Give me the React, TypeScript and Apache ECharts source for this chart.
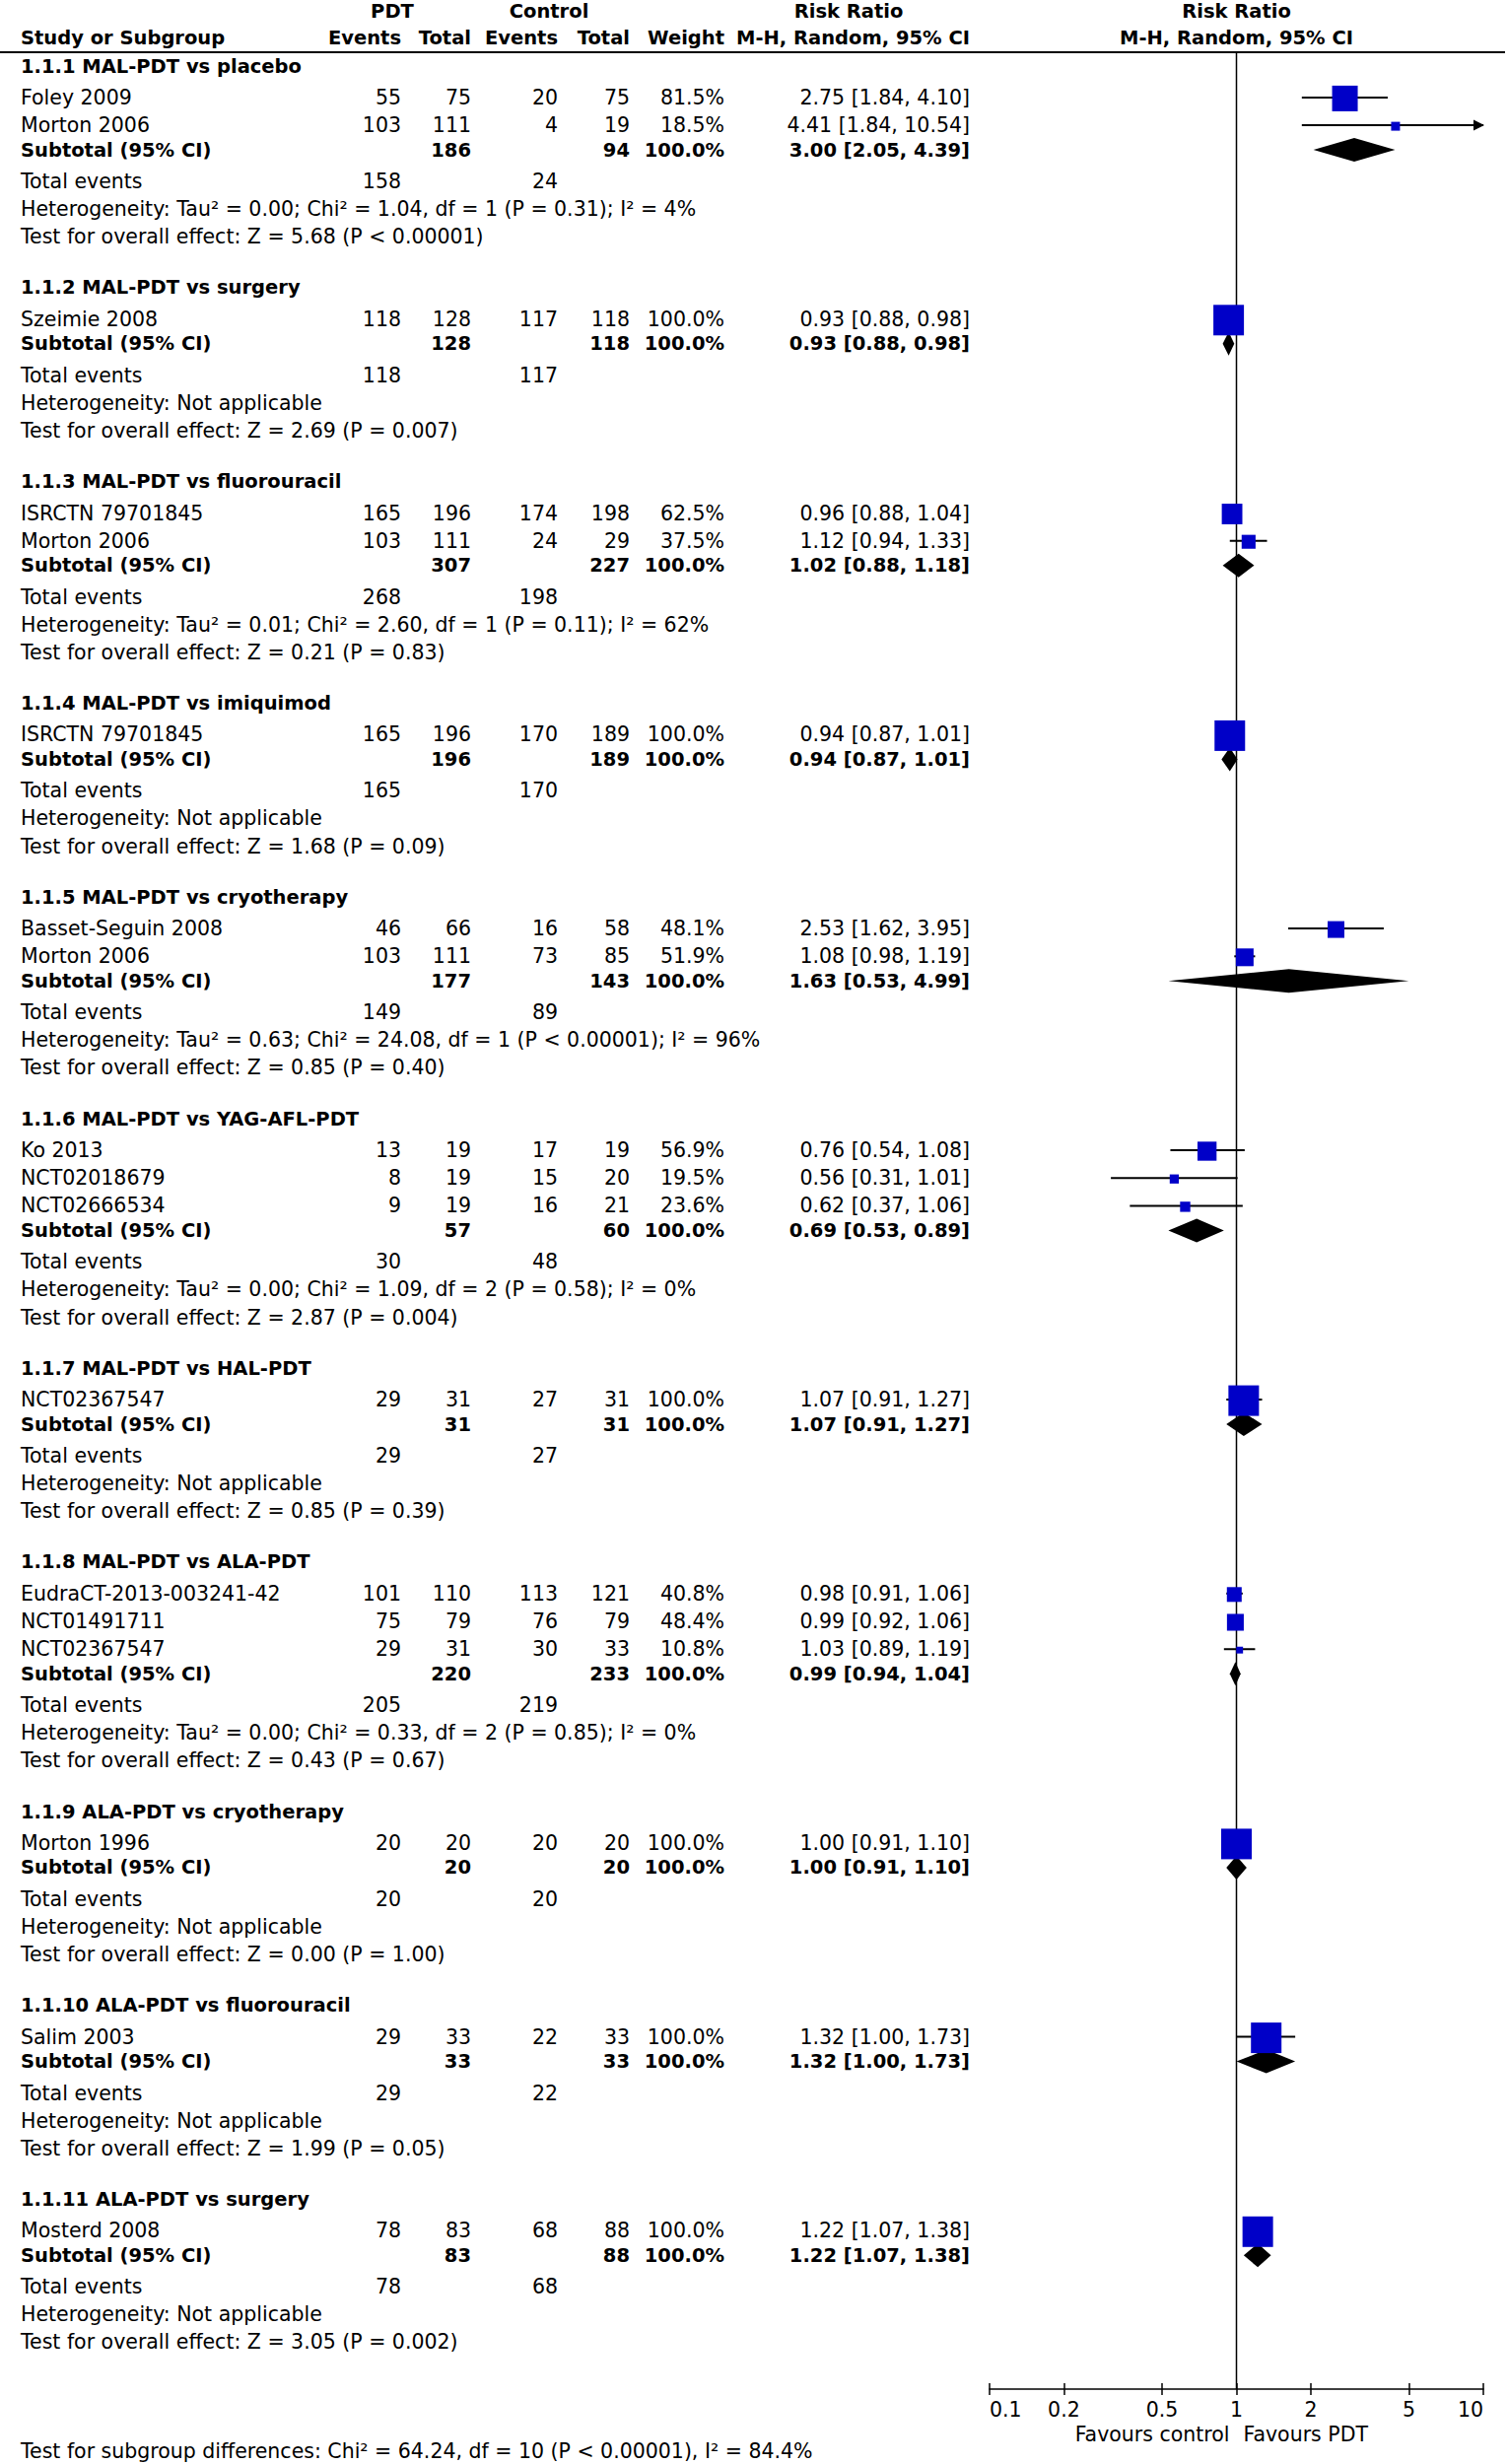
import React, { useEffect, useRef } from "react";
import * as echarts from "echarts";

// ---------- data ----------
const subgroupTitles = [
  "1.1.1 MAL-PDT vs placebo",
  "1.1.2 MAL-PDT vs surgery",
  "1.1.3 MAL-PDT vs fluorouracil",
  "1.1.4 MAL-PDT vs imiquimod",
  "1.1.5 MAL-PDT vs cryotherapy",
  "1.1.6 MAL-PDT vs YAG-AFL-PDT",
  "1.1.7 MAL-PDT vs HAL-PDT",
  "1.1.8 MAL-PDT vs ALA-PDT",
  "1.1.9 ALA-PDT vs cryotherapy",
  "1.1.10 ALA-PDT vs fluorouracil",
  "1.1.11 ALA-PDT vs surgery",
];

const studyGroup = [0, 0, 1, 2, 2, 3, 4, 4, 5, 5, 5, 6, 7, 7, 7, 8, 9, 10];
const studyNames = [
  "Foley 2009", "Morton 2006", "Szeimie 2008", "ISRCTN 79701845", "Morton 2006",
  "ISRCTN 79701845", "Basset-Seguin 2008", "Morton 2006", "Ko 2013", "NCT02018679",
  "NCT02666534", "NCT02367547", "EudraCT-2013-003241-42", "NCT01491711", "NCT02367547",
  "Morton 1996", "Salim 2003", "Mosterd 2008",
];
const pdtEvents = [55, 103, 118, 165, 103, 165, 46, 103, 13, 8, 9, 29, 101, 75, 29, 20, 29, 78];
const pdtTotal = [75, 111, 128, 196, 111, 196, 66, 111, 19, 19, 19, 31, 110, 79, 31, 20, 33, 83];
const ctrlEvents = [20, 4, 117, 174, 24, 170, 16, 73, 17, 15, 16, 27, 113, 76, 30, 20, 22, 68];
const ctrlTotal = [75, 19, 118, 198, 29, 189, 58, 85, 19, 20, 21, 31, 121, 79, 33, 20, 33, 88];
const studyWeight = [81.5, 18.5, 100, 62.5, 37.5, 100, 48.1, 51.9, 56.9, 19.5, 23.6, 100, 40.8, 48.4, 10.8, 100, 100, 100];
const studyRR = [2.75, 4.41, 0.93, 0.96, 1.12, 0.94, 2.53, 1.08, 0.76, 0.56, 0.62, 1.07, 0.98, 0.99, 1.03, 1.0, 1.32, 1.22];
const studyLo = [1.84, 1.84, 0.88, 0.88, 0.94, 0.87, 1.62, 0.98, 0.54, 0.31, 0.37, 0.91, 0.91, 0.92, 0.89, 0.91, 1.0, 1.07];
const studyHi = [4.1, 10.54, 0.98, 1.04, 1.33, 1.01, 3.95, 1.19, 1.08, 1.01, 1.06, 1.27, 1.06, 1.06, 1.19, 1.1, 1.73, 1.38];

const subPdtTotal = [186, 128, 307, 196, 177, 57, 31, 220, 20, 33, 83];
const subCtrlTotal = [94, 118, 227, 189, 143, 60, 31, 233, 20, 33, 88];
const subRR = [3.0, 0.93, 1.02, 0.94, 1.63, 0.69, 1.07, 0.99, 1.0, 1.32, 1.22];
const subLo = [2.05, 0.88, 0.88, 0.87, 0.53, 0.53, 0.91, 0.94, 0.91, 1.0, 1.07];
const subHi = [4.39, 0.98, 1.18, 1.01, 4.99, 0.89, 1.27, 1.04, 1.1, 1.73, 1.38];
const totalEventsPdt = [158, 118, 268, 165, 149, 30, 29, 205, 20, 29, 78];
const totalEventsCtrl = [24, 117, 198, 170, 89, 48, 27, 219, 20, 22, 68];

const heterogeneity = [
  "Heterogeneity: Tau² = 0.00; Chi² = 1.04, df = 1 (P = 0.31); I² = 4%",
  "Heterogeneity: Not applicable",
  "Heterogeneity: Tau² = 0.01; Chi² = 2.60, df = 1 (P = 0.11); I² = 62%",
  "Heterogeneity: Not applicable",
  "Heterogeneity: Tau² = 0.63; Chi² = 24.08, df = 1 (P < 0.00001); I² = 96%",
  "Heterogeneity: Tau² = 0.00; Chi² = 1.09, df = 2 (P = 0.58); I² = 0%",
  "Heterogeneity: Not applicable",
  "Heterogeneity: Tau² = 0.00; Chi² = 0.33, df = 2 (P = 0.85); I² = 0%",
  "Heterogeneity: Not applicable",
  "Heterogeneity: Not applicable",
  "Heterogeneity: Not applicable",
];
const overallEffect = [
  "Test for overall effect: Z = 5.68 (P < 0.00001)",
  "Test for overall effect: Z = 2.69 (P = 0.007)",
  "Test for overall effect: Z = 0.21 (P = 0.83)",
  "Test for overall effect: Z = 1.68 (P = 0.09)",
  "Test for overall effect: Z = 0.85 (P = 0.40)",
  "Test for overall effect: Z = 2.87 (P = 0.004)",
  "Test for overall effect: Z = 0.85 (P = 0.39)",
  "Test for overall effect: Z = 0.43 (P = 0.67)",
  "Test for overall effect: Z = 0.00 (P = 1.00)",
  "Test for overall effect: Z = 1.99 (P = 0.05)",
  "Test for overall effect: Z = 3.05 (P = 0.002)",
];
const subgroupDifferences =
  "Test for subgroup differences: Chi² = 64.24, df = 10 (P < 0.00001), I² = 84.4%";
const axisTicks = [0.1, 0.2, 0.5, 1, 2, 5, 10];
const favoursLeft = "Favours control";
const favoursRight = "Favours PDT";

// ---------- layout (pixels) ----------
const W = 1529;
const H = 2500;
const FONT = '"DejaVu Sans", "Noto Sans", sans-serif';
const FS = 20.5;
const FS_BOLD = 19.5;
const AXIS_Y = 2424;
const HEADER_LINE_Y = 53;
const COL = {
  name: 21,
  pdtE: 407,
  pdtT: 478,
  ctlE: 566,
  ctlT: 639,
  weight: 735,
  rr: 984,
  plotLeft: 1004,
  plotRight: 1505,
};
const PLOT_CENTER = (COL.plotLeft + COL.plotRight) / 2;
const ROW = {
  top: 67,
  titleToStudy: 31.9,
  studyStep: 28.2,
  studyToSub: 25,
  subToTotal: 31.9,
  line: 28.1,
  testToTitle: 51.7,
};

function computeLayout() {
  const titleY: number[] = [];
  const studyY: number[] = [];
  const subY: number[] = [];
  const totY: number[] = [];
  const hetY: number[] = [];
  const testY: number[] = [];
  let y = ROW.top;
  subgroupTitles.forEach((_, g) => {
    titleY[g] = y;
    y += ROW.titleToStudy;
    let first = true;
    studyGroup.forEach((sg, i) => {
      if (sg !== g) return;
      if (!first) y += ROW.studyStep;
      first = false;
      studyY[i] = y;
    });
    y += ROW.studyToSub;
    subY[g] = y;
    y += ROW.subToTotal;
    totY[g] = y;
    y += ROW.line;
    hetY[g] = y;
    y += ROW.line;
    testY[g] = y;
    y += ROW.testToTitle;
  });
  return { titleY, studyY, subY, totY, hetY, testY };
}

function txt(text: string, x: number, y: number, align: string, bold = false) {
  return {
    type: "text",
    x,
    y,
    silent: true,
    style: {
      text,
      font: bold ? `bold ${FS_BOLD}px ${FONT}` : `${FS}px ${FONT}`,
      fill: "#000",
      textAlign: align,
      textVerticalAlign: "middle",
      align,
      verticalAlign: "middle",
    },
  };
}

const f2 = (v: number) => v.toFixed(2);
const ciText = (rr: number, lo: number, hi: number) => `${f2(rr)} [${f2(lo)}, ${f2(hi)}]`;

export default function App() {
  const ref = useRef<HTMLDivElement>(null);

  useEffect(() => {
    if (!ref.current) return;
    const chart = echarts.init(ref.current, undefined, { renderer: "svg" });
    const L = computeLayout();
    const axisMax = axisTicks[axisTicks.length - 1];
    const axisMin = axisTicks[0];

    const graphics: any[] = [];
    // header
    const h1 = 11;
    const h2 = 38;
    graphics.push(txt("PDT", 398, h1, "center", true));
    graphics.push(txt("Control", 557, h1, "center", true));
    graphics.push(txt("Risk Ratio", 861, h1, "center", true));
    graphics.push(txt("Risk Ratio", PLOT_CENTER, h1, "center", true));
    graphics.push(txt("Study or Subgroup", COL.name, h2, "left", true));
    graphics.push(txt("Events", COL.pdtE, h2, "right", true));
    graphics.push(txt("Total", COL.pdtT, h2, "right", true));
    graphics.push(txt("Events", COL.ctlE, h2, "right", true));
    graphics.push(txt("Total", COL.ctlT, h2, "right", true));
    graphics.push(txt("Weight", COL.weight, h2, "right", true));
    graphics.push(txt("M-H, Random, 95% CI", COL.rr, h2, "right", true));
    graphics.push(txt("M-H, Random, 95% CI", PLOT_CENTER, h2, "center", true));
    graphics.push({
      type: "line",
      silent: true,
      shape: { x1: 0, y1: HEADER_LINE_Y, x2: W - 2, y2: HEADER_LINE_Y },
      style: { stroke: "#000", lineWidth: 2 },
    });

    // studies
    studyNames.forEach((name, i) => {
      const y = L.studyY[i];
      graphics.push(txt(name, COL.name, y, "left"));
      graphics.push(txt(String(pdtEvents[i]), COL.pdtE, y, "right"));
      graphics.push(txt(String(pdtTotal[i]), COL.pdtT, y, "right"));
      graphics.push(txt(String(ctrlEvents[i]), COL.ctlE, y, "right"));
      graphics.push(txt(String(ctrlTotal[i]), COL.ctlT, y, "right"));
      graphics.push(txt(studyWeight[i].toFixed(1) + "%", COL.weight, y, "right"));
      graphics.push(txt(ciText(studyRR[i], studyLo[i], studyHi[i]), COL.rr, y, "right"));
    });

    // subgroups
    subgroupTitles.forEach((title, g) => {
      graphics.push(txt(title, COL.name, L.titleY[g], "left", true));
      const ys = L.subY[g];
      graphics.push(txt("Subtotal (95% CI)", COL.name, ys, "left", true));
      graphics.push(txt(String(subPdtTotal[g]), COL.pdtT, ys, "right", true));
      graphics.push(txt(String(subCtrlTotal[g]), COL.ctlT, ys, "right", true));
      graphics.push(txt("100.0%", COL.weight, ys, "right", true));
      graphics.push(txt(ciText(subRR[g], subLo[g], subHi[g]), COL.rr, ys, "right", true));
      graphics.push(txt("Total events", COL.name, L.totY[g], "left"));
      graphics.push(txt(String(totalEventsPdt[g]), COL.pdtE, L.totY[g], "right"));
      graphics.push(txt(String(totalEventsCtrl[g]), COL.ctlE, L.totY[g], "right"));
      graphics.push(txt(heterogeneity[g], COL.name, L.hetY[g], "left"));
      graphics.push(txt(overallEffect[g], COL.name, L.testY[g], "left"));
    });

    // footer
    graphics.push(txt(favoursLeft, PLOT_CENTER - 7, 2470, "right"));
    graphics.push(txt(favoursRight, PLOT_CENTER + 7, 2470, "left"));
    graphics.push(txt(subgroupDifferences, COL.name, 2487, "left"));

    const ciData = studyNames.map((_, i) => [
      studyLo[i],
      Math.min(studyHi[i], axisMax),
      L.studyY[i],
      studyHi[i],
    ]);
    const squareData = studyNames.map((_, i) => [studyRR[i], L.studyY[i] + 1, studyWeight[i]]);
    const diamondData = subgroupTitles.map((_, g) => [subLo[g], subRR[g], subHi[g], L.subY[g]]);

    const logTicks = axisTicks.map((v) => Math.log10(v));
    const fmt = (v: number) => String(parseFloat(Math.pow(10, v).toPrecision(2)));

    chart.setOption({
      animation: false,
      backgroundColor: "#fff",
      textStyle: { fontFamily: FONT },
      grid: {
        left: COL.plotLeft,
        width: COL.plotRight - COL.plotLeft,
        top: 0,
        height: AXIS_Y,
        containLabel: false,
      },
      xAxis: [
        {
          type: "log",
          logBase: 10,
          min: axisMin,
          max: axisMax,
          position: "top",
          show: false,
          splitLine: { show: false },
        },
        {
          type: "value",
          min: Math.log10(axisMin),
          max: Math.log10(axisMax),
          position: "bottom",
          axisLine: { show: true, lineStyle: { color: "#000", width: 1.5 } },
          axisTick: {
            show: true,
            customValues: logTicks,
            length: 6,
            lineStyle: { color: "#000", width: 1.5 },
          },
          axisLabel: {
            show: true,
            customValues: logTicks,
            formatter: fmt,
            color: "#000",
            fontSize: FS,
            fontFamily: FONT,
            margin: 10,
            alignMinLabel: "left",
            alignMaxLabel: "right",
          },
          splitLine: { show: false },
        },
        {
          type: "value",
          min: Math.log10(axisMin),
          max: Math.log10(axisMax),
          position: "bottom",
          axisLine: { show: false },
          axisTick: {
            show: true,
            inside: true,
            customValues: logTicks,
            length: 6,
            lineStyle: { color: "#000", width: 1.5 },
          },
          axisLabel: { show: false },
          splitLine: { show: false },
        },
      ],
      yAxis: {
        type: "value",
        min: 0,
        max: AXIS_Y,
        inverse: true,
        show: false,
        splitLine: { show: false },
      },
      series: [
        {
          type: "line",
          xAxisIndex: 0,
          data: [
            [1, HEADER_LINE_Y],
            [1, AXIS_Y],
          ],
          showSymbol: false,
          symbol: "none",
          lineStyle: { color: "#000", width: 1.5 },
          z: 1,
          silent: true,
        },
        {
          type: "custom",
          xAxisIndex: 0,
          data: ciData,
          encode: { x: [0, 1], y: 2 },
          z: 2,
          silent: true,
          renderItem: (params: any, api: any) => {
            const lo = api.value(0);
            const hi = api.value(1);
            const y = api.value(2);
            const raw = api.value(3);
            const p1 = api.coord([lo, y]);
            const p2 = api.coord([hi, y]);
            const children: any[] = [
              {
                type: "line",
                shape: { x1: p1[0], y1: p1[1], x2: p2[0], y2: p2[1] },
                style: { stroke: "#000", lineWidth: 2 },
              },
            ];
            if (raw > hi) {
              children.push({
                type: "polygon",
                shape: {
                  points: [
                    [p2[0] + 1, p2[1]],
                    [p2[0] - 10, p2[1] - 5.5],
                    [p2[0] - 10, p2[1] + 5.5],
                  ],
                },
                style: { fill: "#000" },
              });
            }
            return { type: "group", children };
          },
        },
        {
          type: "scatter",
          xAxisIndex: 0,
          data: squareData,
          symbol: "rect",
          symbolSize: (val: number[]) => 4 + 0.27 * val[2],
          itemStyle: { color: "#0000c8", opacity: 1 },
          z: 3,
          silent: true,
        },
        {
          type: "custom",
          xAxisIndex: 0,
          data: diamondData,
          encode: { x: [0, 1, 2], y: 3 },
          z: 3,
          silent: true,
          renderItem: (params: any, api: any) => {
            const y = api.value(3);
            const pl = api.coord([api.value(0), y]);
            const pm = api.coord([api.value(1), y]);
            const pr = api.coord([api.value(2), y]);
            const hh = 12;
            return {
              type: "polygon",
              shape: {
                points: [
                  [pl[0], pl[1]],
                  [pm[0], pm[1] - hh],
                  [pr[0], pr[1]],
                  [pm[0], pm[1] + hh],
                ],
              },
              style: { fill: "#000" },
            };
          },
        },
      ],
      graphic: graphics,
    });

    return () => chart.dispose();
  }, []);

  return (
    <div
      ref={ref}
      style={{ position: "absolute", left: 0, top: 0, width: W, height: H, background: "#fff" }}
    />
  );
}
